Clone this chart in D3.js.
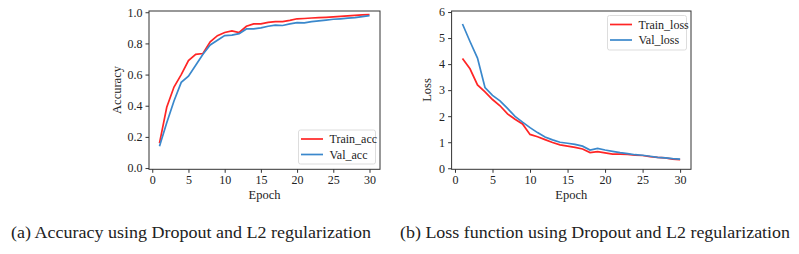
<!DOCTYPE html>
<html>
<head>
<meta charset="utf-8">
<script src="https://cdn.jsdelivr.net/npm/d3@7"></script>
<style>
  body { margin: 0; background: #fff; }
  svg { display: block; }
  text { font-family: "Liberation Serif", "Times New Roman", serif; fill: #222; }
</style>
</head>
<body>
<svg id="fig" width="799" height="254"></svg>
<script>
// Epochs shared by both panels
const epochs = d3.range(1, 31);

// (a) accuracy values
const trainAcc = [0.16, 0.39, 0.52, 0.60, 0.69, 0.73, 0.735, 0.81, 0.85, 0.87,
  0.88, 0.87, 0.91, 0.925, 0.925, 0.935, 0.94, 0.94, 0.948, 0.958,
  0.96, 0.963, 0.965, 0.967, 0.97, 0.973, 0.977, 0.98, 0.983, 0.985];
const valAcc = [0.14, 0.29, 0.43, 0.55, 0.59, 0.66, 0.73, 0.79, 0.82, 0.85,
  0.853, 0.863, 0.893, 0.893, 0.90, 0.91, 0.917, 0.915, 0.925, 0.933,
  0.932, 0.94, 0.945, 0.95, 0.955, 0.958, 0.962, 0.965, 0.972, 0.978];

// (b) loss values
const trainLoss = [4.22, 3.82, 3.2, 2.93, 2.64, 2.4, 2.09, 1.88, 1.7, 1.3,
  1.21, 1.1, 0.99, 0.9, 0.85, 0.8, 0.74, 0.6, 0.64, 0.59,
  0.54, 0.54, 0.53, 0.5, 0.49, 0.45, 0.42, 0.4, 0.35, 0.33];
const valLoss = [5.54, 4.87, 4.23, 3.1, 2.8, 2.59, 2.3, 1.99, 1.77, 1.56,
  1.37, 1.2, 1.09, 1.0, 0.96, 0.92, 0.85, 0.7, 0.76, 0.7,
  0.65, 0.6, 0.56, 0.52, 0.5, 0.46, 0.42, 0.4, 0.37, 0.35];

const xTicks = [0, 5, 10, 15, 20, 25, 30];
const accTicks = [0.0, 0.2, 0.4, 0.6, 0.8, 1.0];
const lossTicks = [0, 1, 2, 3, 4, 5, 6];

const captions = [
  "(a) Accuracy using Dropout and L2 regularization",
  "(b) Loss function using Dropout and L2 regularization"
];

const RED = "#ff2525";
const BLUE = "#3a88cc";

const svg = d3.select("#fig");

function panel(opt) {
  const x = d3.scaleLinear().domain([-0.45, 31.45]).range([opt.left, opt.right]);
  const y = d3.scaleLinear().domain(opt.yDomain).range([169.3, 11]);
  const g = svg.append("g");

  // axes
  const xa = g.append("g")
    .attr("transform", `translate(0,${y.range()[0]})`)
    .call(d3.axisBottom(x).tickValues(xTicks).tickSize(3.5).tickPadding(3).tickFormat(d3.format("d")));
  const ya = g.append("g")
    .attr("transform", `translate(${opt.left},0)`)
    .call(d3.axisLeft(y).tickValues(opt.yTicks).tickSize(3.5).tickPadding(3).tickFormat(opt.fmt));
  [xa, ya].forEach(a => {
    a.select(".domain").remove();
    a.selectAll(".tick line").attr("stroke", "#333");
    a.selectAll(".tick text")
      .style("font-family", '"Liberation Serif", serif')
      .style("font-size", "12px")
      .attr("fill", "#222");
  });

  // lines
  const line = d3.line().x((d, i) => x(epochs[i])).y(d => y(d));
  opt.series.forEach(s => {
    g.append("path").datum(s.values)
      .attr("d", line)
      .attr("fill", "none")
      .attr("stroke", s.color)
      .attr("stroke-width", 1.7);
  });

  // frame
  g.append("rect")
    .attr("x", opt.left).attr("y", y.range()[1])
    .attr("width", opt.right - opt.left)
    .attr("height", y.range()[0] - y.range()[1])
    .attr("fill", "none").attr("stroke", "#333").attr("stroke-width", 1);

  // axis labels
  g.append("text")
    .attr("x", (opt.left + opt.right) / 2).attr("y", 199)
    .attr("text-anchor", "middle").style("font-size", "12.5px")
    .text("Epoch");
  g.append("text")
    .attr("transform", `translate(${opt.yLabelX},90) rotate(-90)`)
    .attr("text-anchor", "middle").attr("dy", "0.35em").style("font-size", "12.5px")
    .text(opt.yLabel);

  // legend
  const L = opt.legend;
  g.append("rect")
    .attr("x", L.x).attr("y", L.y).attr("width", L.w).attr("height", L.h)
    .attr("rx", 2).attr("fill", "#fff").attr("stroke", "#ddd");
  opt.series.forEach((s, i) => {
    const ly = L.y + 9 + i * 15.5;
    g.append("line")
      .attr("x1", L.x + 2.5).attr("x2", L.x + 24.5)
      .attr("y1", ly).attr("y2", ly)
      .attr("stroke", s.color).attr("stroke-width", 1.7);
    g.append("text")
      .attr("x", L.x + 31).attr("y", ly).attr("dy", "0.35em")
      .style("font-size", "12px")
      .text(s.name);
  });
}

panel({
  left: 149, right: 380,
  yDomain: [-0.008, 1.008], yTicks: accTicks, fmt: d3.format(".1f"),
  yLabel: "Accuracy", yLabelX: 116.5,
  series: [
    { name: "Train_acc", values: trainAcc, color: RED },
    { name: "Val_acc", values: valAcc, color: BLUE }
  ],
  legend: { x: 298.5, y: 130, w: 77, h: 34 }
});

panel({
  left: 451.6, right: 691,
  yDomain: [-0.04, 6.04], yTicks: lossTicks, fmt: d3.format("d"),
  yLabel: "Loss", yLabelX: 426.5,
  series: [
    { name: "Train_loss", values: trainLoss, color: RED },
    { name: "Val_loss", values: valLoss, color: BLUE }
  ],
  legend: { x: 607.5, y: 15.5, w: 79, h: 34.5 }
});

// captions
svg.append("text").attr("x", 11).attr("y", 238)
  .attr("textLength", 360).attr("lengthAdjust", "spacingAndGlyphs")
  .style("font-size", "16.5px").text(captions[0]);
svg.append("text").attr("x", 400).attr("y", 238)
  .attr("textLength", 390).attr("lengthAdjust", "spacingAndGlyphs")
  .style("font-size", "16.5px").text(captions[1]);
</script>
</body>
</html>
